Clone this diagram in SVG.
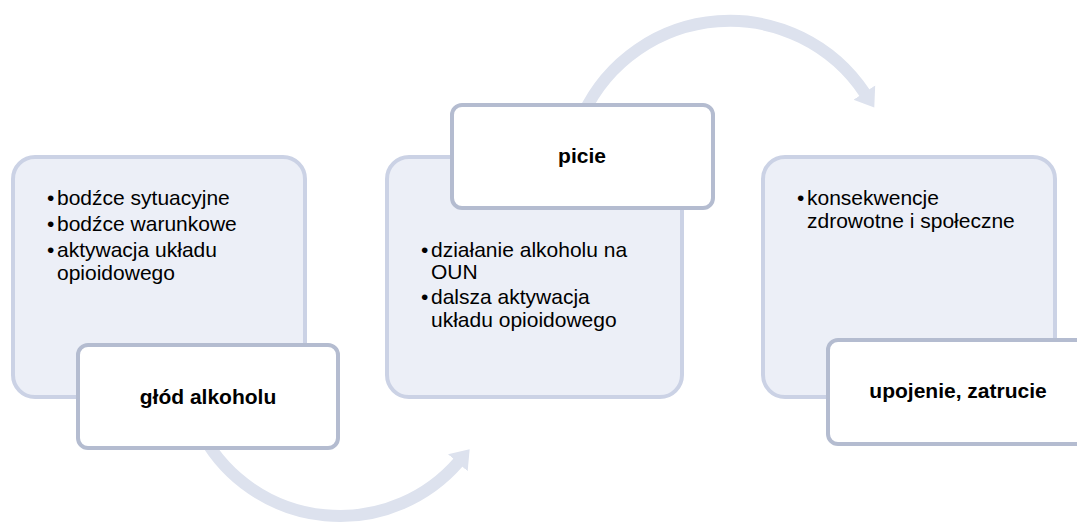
<svg xmlns="http://www.w3.org/2000/svg" width="1077" height="524" viewBox="0 0 1077 524">
  <defs>
    <style>
      .panel { fill: #ECEFF7; stroke: #CBD2E5; stroke-width: 4; }
      .label { fill: #FFFFFF; stroke: #B4BCD0; stroke-width: 4; }
      .arc { fill: none; stroke: #DDE2EE; stroke-width: 12; }
      .txt { font-family: "Liberation Sans", Arial, sans-serif; font-size: 21px; fill: #000000; }
      .bold { font-family: "Liberation Sans", Arial, sans-serif; font-size: 21px; font-weight: bold; fill: #000000; text-anchor: middle; }
    </style>
    <marker id="head" markerUnits="userSpaceOnUse" markerWidth="30" markerHeight="30" refX="1" refY="14" orient="auto" viewBox="0 0 30 30">
      <path d="M0,1 L18,14 L0,27 z" fill="#DDE2EE"/>
    </marker>
  </defs>
  <rect width="1077" height="524" fill="#FFFFFF"/>

  <g id="connectors">
    <path class="arc" d="M204,437.5 A157,157 0 0 0 458.5,462" marker-end="url(#head)"/>
    <path class="arc" d="M583,114.5 A162,162 0 0 1 864.9,93.4" marker-end="url(#head)"/>
  </g>

  <g id="panel1">
    <rect class="panel" x="13" y="157" width="292" height="240" rx="22"/>
    <text class="txt" x="47" y="205">•</text>
    <text class="txt" x="57" y="205">bodźce sytuacyjne</text>
    <text class="txt" x="47" y="231">•</text>
    <text class="txt" x="57" y="231">bodźce warunkowe</text>
    <text class="txt" x="47" y="257">•</text>
    <text class="txt" x="57" y="257">aktywacja układu</text>
    <text class="txt" x="57" y="280">opioidowego</text>
  </g>
  <g id="label1">
    <rect class="label" x="78" y="345" width="260" height="103" rx="10"/>
    <text class="bold" x="208" y="404">głód alkoholu</text>
  </g>

  <g id="panel2">
    <rect class="panel" x="387" y="157" width="295" height="240" rx="22"/>
    <text class="txt" x="421" y="257">•</text>
    <text class="txt" x="431" y="257">działanie alkoholu na</text>
    <text class="txt" x="431" y="279">OUN</text>
    <text class="txt" x="421" y="304">•</text>
    <text class="txt" x="431" y="304">dalsza aktywacja</text>
    <text class="txt" x="431" y="327">układu opioidowego</text>
  </g>
  <g id="label2">
    <rect class="label" x="452" y="105" width="261" height="103" rx="10"/>
    <text class="bold" x="582" y="163">picie</text>
  </g>

  <g id="panel3">
    <rect class="panel" x="763" y="157" width="292" height="240" rx="22"/>
    <text class="txt" x="797" y="205">•</text>
    <text class="txt" x="807" y="205">konsekwencje</text>
    <text class="txt" x="807" y="228">zdrowotne i społeczne</text>
  </g>
  <g id="label3">
    <rect class="label" x="828" y="340" width="260" height="104" rx="10"/>
    <text class="bold" x="958" y="398">upojenie, zatrucie</text>
  </g>
</svg>
